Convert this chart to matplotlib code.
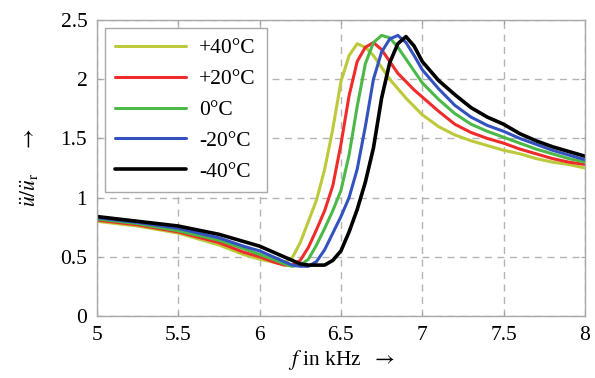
# -------------------- IMPORT LIBRARIES --------------------
import matplotlib
matplotlib.use("Agg")
import matplotlib.pyplot as plt

# -------------------- DATA --------------------
freq_khz = [5.0, 5.25, 5.5, 5.75, 5.9, 6.0, 6.1, 6.15, 6.2, 6.25, 6.3, 6.35,
            6.4, 6.45, 6.5, 6.55, 6.6, 6.65, 6.7, 6.75, 6.8, 6.85, 6.9, 6.95,
            7.0, 7.1, 7.2, 7.3, 7.4, 7.5, 7.6, 7.7, 7.8, 7.9, 8.0]

amp_p40 = [0.80, 0.76, 0.70, 0.60, 0.52, 0.48, 0.45, 0.45, 0.49, 0.62, 0.80, 0.98,
           1.24, 1.58, 1.98, 2.20, 2.30, 2.27, 2.20, 2.10, 2.00, 1.92, 1.84, 1.77,
           1.70, 1.60, 1.53, 1.48, 1.44, 1.40, 1.37, 1.33, 1.30, 1.28, 1.25]
amp_p20 = [0.81, 0.77, 0.71, 0.62, 0.54, 0.50, 0.45, 0.43, 0.43, 0.47, 0.58, 0.73,
           0.89, 1.10, 1.45, 1.86, 2.15, 2.27, 2.31, 2.25, 2.15, 2.05, 1.98, 1.91,
           1.85, 1.73, 1.62, 1.55, 1.50, 1.46, 1.41, 1.37, 1.33, 1.30, 1.28]
amp_0 = [0.82, 0.78, 0.72, 0.64, 0.57, 0.52, 0.47, 0.44, 0.42, 0.43, 0.48, 0.60,
         0.74, 0.89, 1.06, 1.36, 1.77, 2.13, 2.31, 2.37, 2.35, 2.27, 2.17, 2.07,
         1.97, 1.83, 1.71, 1.62, 1.56, 1.51, 1.46, 1.41, 1.37, 1.33, 1.30]
amp_m20 = [0.83, 0.79, 0.74, 0.66, 0.59, 0.55, 0.49, 0.46, 0.43, 0.42, 0.42, 0.46,
           0.56, 0.70, 0.84, 1.00, 1.24, 1.60, 2.00, 2.23, 2.34, 2.37, 2.31, 2.20,
           2.08, 1.92, 1.78, 1.68, 1.61, 1.56, 1.50, 1.45, 1.40, 1.36, 1.32]
amp_m40 = [0.84, 0.80, 0.76, 0.69, 0.63, 0.59, 0.53, 0.50, 0.47, 0.44, 0.43, 0.43,
           0.43, 0.47, 0.55, 0.71, 0.90, 1.13, 1.42, 1.84, 2.14, 2.30, 2.36, 2.28,
           2.15, 1.99, 1.87, 1.76, 1.68, 1.62, 1.54, 1.48, 1.43, 1.39, 1.35]

labels = ["+40°C", "+20°C", "0°C", "-20°C", "-40°C"]
colors = ["#bcc93a", "#f02b2b", "#4cb848", "#3352c0", "#000000"]

x_ticks = [5, 5.5, 6, 6.5, 7, 7.5, 8]
x_tick_labels = ["5", "5.5", "6", "6.5", "7", "7.5", "8"]
y_ticks = [0, 0.5, 1, 1.5, 2, 2.5]
y_tick_labels = ["0", "0.5", "1", "1.5", "2", "2.5"]

# -------------------- STYLE --------------------
plt.rcParams["font.family"] = ["Liberation Serif", "DejaVu Serif"]
plt.rcParams["mathtext.fontset"] = "stix"

# -------------------- PLOT --------------------
fig = plt.figure(figsize=(5.95, 3.78), dpi=100)
ax = fig.add_axes([0.163, 0.164, 0.820, 0.783])

series = [amp_p40, amp_p20, amp_0, amp_m20, amp_m40]
for amp, lab, col in zip(series, labels, colors):
    lw = 2.6 if col == "#000000" else 2.2
    ax.plot(freq_khz, amp, color=col, lw=lw, label=lab,
            solid_joinstyle="round", solid_capstyle="round")

ax.set_xlim(5, 8)
ax.set_ylim(0, 2.5)
ax.set_xticks(x_ticks)
ax.set_xticklabels(x_tick_labels)
ax.set_yticks(y_ticks)
ax.set_yticklabels(y_tick_labels)
ax.tick_params(direction="in", length=3, color="#a0a0a0", labelsize=15.5,
               top=True, right=True, pad=7)
ax.grid(True, color="#b4b4b4", linestyle=(0, (5, 4)), lw=1.0)
for sp in ax.spines.values():
    sp.set_color("#a8a8a8")
    sp.set_linewidth(1.0)

ax.set_xlabel(r"$f$ in kHz  $\rightarrow$", fontsize=15.5, labelpad=2)
ax.set_ylabel(r"$\ddot{u}/\ddot{u}_\mathrm{r}$    $\rightarrow$", fontsize=15.5,
              labelpad=14)

leg = ax.legend(loc="upper left", fontsize=15.5, frameon=True, fancybox=False,
                handlelength=3.3, handletextpad=0.6, labelspacing=0.5,
                borderpad=0.5, borderaxespad=0.35)
leg.get_frame().set_edgecolor("#a8a8a8")
leg.get_frame().set_linewidth(1.0)
leg.get_frame().set_alpha(1.0)

fig.savefig("out.png", dpi=100)
